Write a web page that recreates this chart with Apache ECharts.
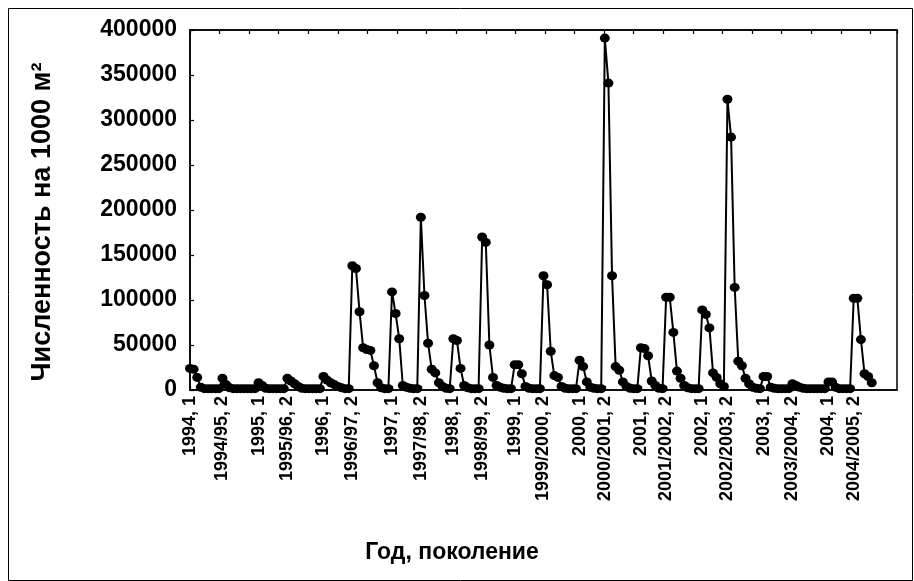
<!DOCTYPE html>
<html><head><meta charset="utf-8">
<script src="https://cdn.jsdelivr.net/npm/echarts@6/dist/echarts.min.js"></script>
<style>html,body{margin:0;padding:0;background:#fff}#c{width:914px;height:581px}</style>
</head><body><div id="c"></div>
<script>
// Generation labels (first sample of each generation carries the label)
const genLabels = ['1994, 1','1994/95, 2','1995, 1','1995/96, 2','1996, 1','1996/97, 2','1997, 1','1997/98, 2','1998, 1','1998/99, 2','1999, 1','1999/2000, 2','2000, 1','2000/2001, 2','2001, 1','2001/2002, 2','2002, 1','2002/2003, 2','2003, 1','2003/2004, 2','2004, 1','2004/2005, 2'];
// Abundance per 1000 m2, samples within each generation
const g1994_1   = [24000, 23000, 14000, 3000, 1500, 1500, 1500, 1500, 1500];
const g1994_2   = [13000, 6000, 2500, 1500, 1500, 1500, 1500, 1500, 1500, 1500];
const g1995_1   = [8000, 5000, 2000, 1500, 1500, 1500, 1500, 1500];
const g1995_2   = [13000, 10000, 7000, 4000, 2000, 1500, 1500, 1500, 1500, 1500];
const g1996_1   = [15000, 11000, 8000, 6000, 4000, 2500, 1500, 1500];
const g1996_2   = [138000, 135000, 87000, 47000, 45000, 44000, 27000, 8000, 2500, 1500, 1500];
const g1997_1   = [109000, 85000, 57000, 5000, 3000, 2000, 1500, 1500];
const g1997_2   = [192000, 105000, 52000, 23000, 19000, 8000, 4000, 2000, 1500];
const g1998_1   = [57000, 55000, 24000, 5000, 2500, 1500, 1500, 1500];
const g1998_2   = [170000, 164000, 50000, 14000, 5000, 3000, 2000, 1500, 1500];
const g1999_1   = [28000, 28000, 18000, 4000, 2000, 1500, 1500, 1500];
const g1999_2   = [127000, 117000, 43000, 16000, 14000, 4000, 2000, 1500, 1500, 1500];
const g2000_1   = [33000, 26000, 9000, 3000, 2000, 1500, 1500];
const g2000_2   = [391000, 341000, 127000, 26000, 22000, 9000, 4000, 2000, 1500, 1500];
const g2001_1   = [47000, 46000, 38000, 10000, 5000, 2000, 1500];
const g2001_2   = [103000, 103000, 64000, 21000, 13000, 5000, 2500, 1500, 1500, 1500];
const g2002_1   = [89000, 84000, 69000, 19000, 14000, 7000, 4000];
const g2002_2   = [323000, 281000, 114000, 32000, 27000, 13000, 7000, 3000, 2000, 1500];
const g2003_1   = [15000, 15000, 3000, 2000, 1500, 1500, 1500, 1500];
const g2003_2   = [7000, 5000, 3000, 2000, 1500, 1500, 1500, 1500, 1500, 1500];
const g2004_1   = [9000, 9000, 3000, 1500, 1500, 1500, 1500];
const g2004_2   = [102000, 102000, 56000, 18000, 15000, 8000];
const genValues = [g1994_1,g1994_2,g1995_1,g1995_2,g1996_1,g1996_2,g1997_1,g1997_2,g1998_1,g1998_2,g1999_1,g1999_2,g2000_1,g2000_2,g2001_1,g2001_2,g2002_1,g2002_2,g2003_1,g2003_2,g2004_1,g2004_2];
const emptyTail = 7; // empty sample slots after the last sample
const yMin = 0, yMax = 400000, yStep = 50000;
const yTitle = 'Численность на 1000 м²';
const xTitle = 'Год, поколение';

const labelAt = [], values = [];
genValues.forEach((arr, g) => arr.forEach((v, k) => { labelAt.push(k === 0 ? genLabels[g] : ''); values.push(v); }));
for (let i = 0; i < emptyTail; i++) { labelAt.push(''); values.push(null); }
const cats = labelAt.map((_, i) => String(i));

const FONT = '"Liberation Sans", Arial, sans-serif';
const chart = echarts.init(document.getElementById('c'), null, {renderer: 'canvas'});
chart.setOption({
  animation: false,
  backgroundColor: '#fff',
  grid: {left: 190, right: 17, top: 30, bottom: 191, show: true, borderColor: '#000', borderWidth: 1.5, outerBoundsMode: 'none'},
  xAxis: [{
    type: 'category', data: cats, boundaryGap: false, position: 'bottom',
    axisLine: {lineStyle: {color: '#000', width: 1.5}},
    axisTick: {inside: true, length: 4, lineStyle: {color: '#000', width: 1.2}, interval: (i) => labelAt[i] !== ''},
    axisLabel: {interval: 0, rotate: 90, formatter: (v, i) => labelAt[i], color: '#000', fontFamily: FONT, fontWeight: 'bold', fontSize: 18, margin: 6},
    splitLine: {show: false}
  }, {
    type: 'value', position: 'top', min: 0, max: 23.9, interval: 1,
    axisLine: {show: true, lineStyle: {color: '#000', width: 1.5}},
    axisTick: {inside: true, length: 4, lineStyle: {color: '#000', width: 1.2}},
    axisLabel: {show: false}, splitLine: {show: false}
  }],
  yAxis: [{
    type: 'value', min: yMin, max: yMax, interval: yStep,
    axisLine: {show: true, lineStyle: {color: '#000', width: 1.5}},
    axisTick: {show: true, inside: true, length: 4, lineStyle: {color: '#000', width: 1.2}},
    axisLabel: {color: '#000', fontFamily: FONT, fontWeight: 'bold', fontSize: 23, margin: 13, formatter: (v) => String(v)},
    splitLine: {show: false}
  }],
  series: [{
    type: 'line', data: values, xAxisIndex: 0, yAxisIndex: 0,
    symbol: 'circle', symbolSize: [10, 9], showAllSymbol: true,
    lineStyle: {color: '#000', width: 2}, itemStyle: {color: '#000'},
    connectNulls: false, clip: false
  }],
  graphic: [
    {type: 'rect', shape: {x: 8.5, y: 8.5, width: 904, height: 572}, style: {fill: null, stroke: '#000', lineWidth: 1}, silent: true},
    {type: 'text', x: 43, y: 222, rotation: Math.PI / 2, style: {text: yTitle, fill: '#000', font: 'bold 27px ' + FONT, textAlign: 'center', textVerticalAlign: 'middle', align: 'center', verticalAlign: 'middle'}},
    {type: 'text', x: 452, y: 553, style: {text: xTitle, fill: '#000', font: 'bold 23px ' + FONT, textAlign: 'center', textVerticalAlign: 'middle', align: 'center', verticalAlign: 'middle'}}
  ]
});
</script></body></html>
